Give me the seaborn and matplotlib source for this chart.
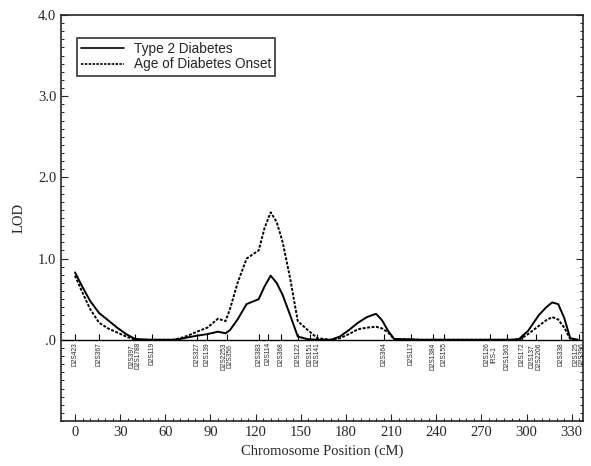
import numpy as np
import pandas as pd
import matplotlib
matplotlib.use("Agg")
import matplotlib.pyplot as plt
import seaborn as sns

# chromosome position (cM) and LOD scores
position = [0, 5, 10, 16, 22, 28, 34, 40, 50, 65, 70, 75, 81, 88, 95, 100, 103,
            108, 114, 122, 126, 130, 134, 138, 143, 148, 154, 161, 170, 176, 182,
            188, 194, 200, 204, 208, 212, 230, 260, 290, 295, 301, 308, 313, 317,
            321, 325, 329, 334]
lod_t2d = [0.83, 0.65, 0.48, 0.33, 0.24, 0.15, 0.07, 0.01, 0.0, 0.0, 0.01, 0.03,
           0.05, 0.07, 0.10, 0.08, 0.12, 0.25, 0.44, 0.50, 0.66, 0.79, 0.70, 0.55,
           0.30, 0.04, 0.01, 0.0, 0.0, 0.04, 0.12, 0.21, 0.28, 0.32, 0.24, 0.11,
           0.01, 0.0, 0.0, 0.0, 0.01, 0.11, 0.30, 0.40, 0.46, 0.44, 0.27, 0.02, 0.0]
lod_onset = [0.79, 0.58, 0.38, 0.21, 0.14, 0.09, 0.04, 0.0, 0.0, 0.0, 0.02, 0.05,
             0.10, 0.15, 0.26, 0.23, 0.38, 0.70, 1.00, 1.10, 1.38, 1.57, 1.45, 1.20,
             0.75, 0.23, 0.13, 0.02, 0.0, 0.02, 0.07, 0.13, 0.15, 0.16, 0.14, 0.09,
             0.01, 0.0, 0.0, 0.0, 0.0, 0.07, 0.17, 0.24, 0.28, 0.25, 0.15, 0.01, 0.0]

# marker names and their map positions
marker_names = ["D2S423", "D2S367", "D2S397\nD2S1788", "D2S119", "D2S327", "D2S139",
                "D2S2253\nD2S356", "D2S383", "D2S114", "D2S368", "D2S122", "D2S151",
                "D2S141", "D2S364", "D2S117", "D2S1384", "D2S155", "D2S126\nIRS-1",
                "D2S1363", "D2S172", "D2S137\nD2S2206", "D2S338", "D2S125\nD2S396"]
marker_pos = [0, 16, 40, 51, 81, 88, 101, 122, 128, 137, 148, 156, 161, 205, 223,
              238, 245, 276, 287, 297, 306, 323, 335]

x_ticks = [0, 30, 60, 90, 120, 150, 180, 210, 240, 270, 300, 330]
y_ticks = [0, 1, 2, 3, 4]
y_labels = [".0", "1.0", "2.0", "3.0", "4.0"]

df = pd.concat([
    pd.DataFrame({"pos": position, "lod": lod_t2d, "trait": "Type 2 Diabetes"}),
    pd.DataFrame({"pos": position, "lod": lod_onset, "trait": "Age of Diabetes Onset"}),
])

sns.set_style("ticks")
plt.rcParams["font.family"] = ["Liberation Serif", "DejaVu Serif"]

fig = plt.figure(figsize=(5.91, 4.66), dpi=100)
ax = fig.add_axes([0.1032, 0.0966, 0.8833, 0.8712])

sns.lineplot(data=df, x="pos", y="lod", hue="trait", style="trait",
             palette={"Type 2 Diabetes": "black", "Age of Diabetes Onset": "black"},
             dashes={"Type 2 Diabetes": "", "Age of Diabetes Onset": (1.5, 0.8)},
             linewidth=1.4, ax=ax, sort=False)

ax.axhline(0, color="black", linewidth=1.0)
ax.vlines(marker_pos, 0, 0.07, color="black", linewidth=0.8)
for name, p in zip(marker_names, marker_pos):
    ax.text(p, -0.03, name, rotation=90, ha="center", va="top", fontsize=4.8,
            family=["Liberation Sans", "DejaVu Sans"], multialignment="center",
            linespacing=0.85)

ax.set_xlim(-9.3, 337.5)
ax.set_ylim(-1, 4)
ax.set_xticks(x_ticks)
ax.set_xticks(np.arange(0, 336, 5), minor=True)
ax.set_yticks(y_ticks)
ax.set_yticklabels(y_labels)
ax.set_yticks(np.arange(-1, 4.01, 0.1), minor=True)
ax.tick_params(axis="both", which="major", direction="in", length=5, width=0.8,
               labelsize=10.5, right=True, top=False)
ax.tick_params(axis="both", which="minor", direction="in", length=2.5, width=0.7,
               right=True, top=False)
for s in ax.spines.values():
    s.set_linewidth(1.2)

ax.set_xlabel("Chromosome Position (cM)", fontsize=10.5, labelpad=4)
ax.set_ylabel("LOD", fontsize=10.5, labelpad=9)

leg = ax.legend(loc="upper left", bbox_to_anchor=(0.017, 0.96), frameon=True,
                fancybox=False, edgecolor="black", handlelength=3.2,
                borderpad=0.3, labelspacing=0.1, handletextpad=0.7,
                prop={"family": ["Liberation Sans", "DejaVu Sans"], "size": 9.8})
leg.get_frame().set_linewidth(1.2)
for line in leg.get_lines():
    line.set_linewidth(1.2)

fig.savefig("out.png", dpi=100)
